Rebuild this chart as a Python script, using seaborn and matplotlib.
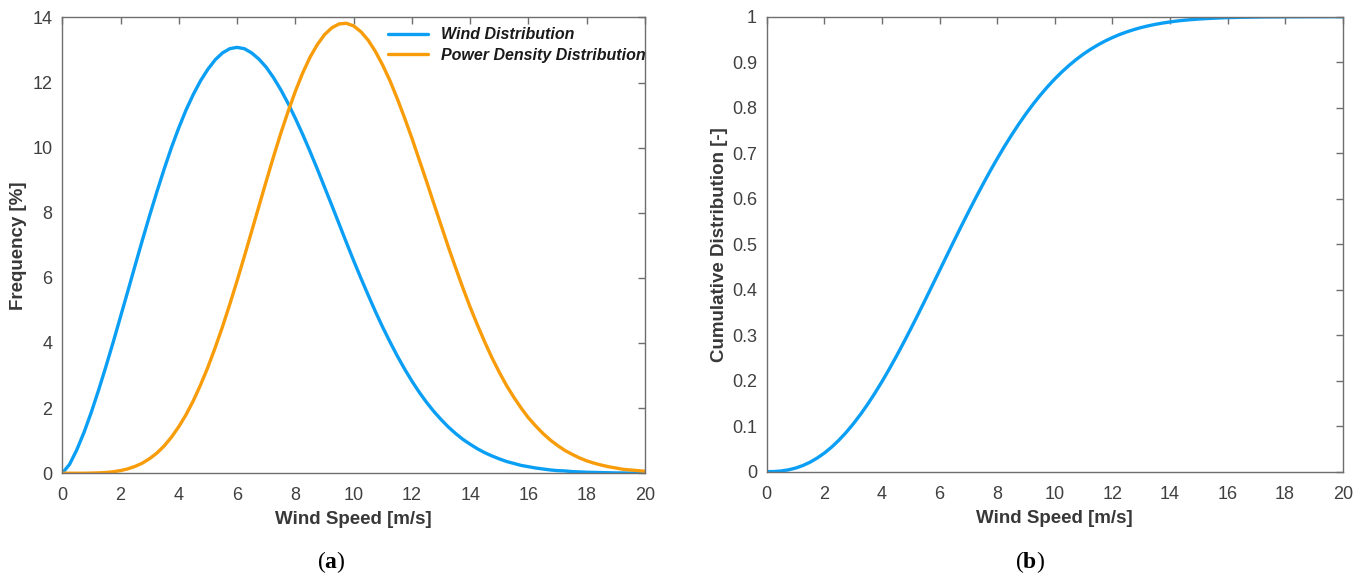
import numpy as np
import pandas as pd
import matplotlib
matplotlib.use("Agg")
import matplotlib.pyplot as plt
import seaborn as sns

# wind speed grid [m/s]
speed = [0, 0.25, 0.5, 0.75, 1, 1.25, 1.5, 1.75, 2, 2.25, 2.5, 2.75, 3, 3.25, 3.5, 3.75,
         4, 4.25, 4.5, 4.75, 5, 5.25, 5.5, 5.75, 6, 6.25, 6.5, 6.75, 7, 7.25, 7.5, 7.75,
         8, 8.25, 8.5, 8.75, 9, 9.25, 9.5, 9.75, 10, 10.25, 10.5, 10.75, 11, 11.25, 11.5,
         11.75, 12, 12.25, 12.5, 12.75, 13, 13.25, 13.5, 13.75, 14, 14.25, 14.5, 14.75,
         15, 15.25, 15.5, 15.75, 16, 16.25, 16.5, 16.75, 17, 17.25, 17.5, 17.75, 18,
         18.25, 18.5, 18.75, 19, 19.25, 19.5, 19.75, 20]

# frequency of wind speed [%]
wind_freq = [0.00, 0.27, 0.72, 1.26, 1.88, 2.56, 3.28, 4.03, 4.81, 5.59, 6.38, 7.16,
             7.92, 8.65, 9.35, 10.01, 10.61, 11.16, 11.64, 12.06, 12.41, 12.70, 12.91,
             13.04, 13.08, 13.04, 12.91, 12.72, 12.47, 12.15, 11.78, 11.36, 10.90, 10.41,
             9.89, 9.35, 8.79, 8.23, 7.66, 7.09, 6.53, 5.99, 5.47, 4.96, 4.48, 4.03, 3.60,
             3.20, 2.83, 2.49, 2.18, 1.90, 1.65, 1.42, 1.22, 1.04, 0.89, 0.75, 0.63, 0.53,
             0.44, 0.36, 0.30, 0.24, 0.20, 0.16, 0.13, 0.10, 0.08, 0.07, 0.05, 0.04, 0.03,
             0.025, 0.02, 0.015, 0.01, 0.008, 0.006, 0.005, 0.003]

# power density distribution [%]
power_freq = [0.00, 0.00, 0.00, 0.00, 0.004, 0.011, 0.023, 0.045, 0.081, 0.134, 0.21,
              0.31, 0.45, 0.62, 0.84, 1.11, 1.43, 1.80, 2.23, 2.72, 3.26, 3.86, 4.50, 5.19,
              5.91, 6.66, 7.43, 8.20, 8.97, 9.72, 10.44, 11.11, 11.73, 12.29, 12.77, 13.16,
              13.47, 13.68, 13.80, 13.82, 13.74, 13.56, 13.30, 12.95, 12.53, 12.05, 11.50,
              10.91, 10.29, 9.63, 8.97, 8.29, 7.62, 6.95, 6.31, 5.69, 5.10, 4.55, 4.03,
              3.54, 3.10, 2.69, 2.33, 2.00, 1.70, 1.45, 1.22, 1.02, 0.85, 0.70, 0.58, 0.47,
              0.38, 0.31, 0.25, 0.20, 0.16, 0.12, 0.10, 0.08, 0.06]

# cumulative distribution [-]
cdf = [0.0, 0.0003, 0.0015, 0.0040, 0.0079, 0.0134, 0.0207, 0.0299, 0.0409, 0.0539,
       0.0689, 0.0858, 0.1047, 0.1254, 0.1479, 0.1721, 0.1979, 0.2251, 0.2536, 0.2833,
       0.3139, 0.3452, 0.3772, 0.4096, 0.4420, 0.4746, 0.5069, 0.5389, 0.5703, 0.6011,
       0.6309, 0.6599, 0.6877, 0.7144, 0.7397, 0.7638, 0.7865, 0.8078, 0.8276, 0.8460,
       0.8631, 0.8787, 0.8930, 0.9061, 0.9179, 0.9285, 0.9380, 0.9465, 0.9540, 0.9607,
       0.9665, 0.9716, 0.9761, 0.9799, 0.9832, 0.9860, 0.9884, 0.9905, 0.9922, 0.9936,
       0.9948, 0.9958, 0.9966, 0.9973, 0.9979, 0.9983, 0.9987, 0.9989, 0.9992, 0.9994,
       0.9995, 0.9996, 0.9997, 0.9998, 0.9998, 0.9999, 0.9999, 0.9999, 1.0, 1.0, 1.0]

df = pd.DataFrame({"speed": speed, "wind": wind_freq, "power": power_freq, "cdf": cdf})

sns.set_style("white")
plt.rcParams['font.family'] = ['Liberation Sans', 'DejaVu Sans']
plt.rcParams['mathtext.fontset'] = 'custom'
plt.rcParams['mathtext.rm'] = 'Liberation Serif'
plt.rcParams['mathtext.bf'] = 'Liberation Serif:bold'

blue = "#0a9ff5"
orange = "#f89c0a"
axis_grey = "#6e6e6e"
text_grey = "#404040"

fig = plt.figure(figsize=(13.68, 5.75), dpi=100)
ax1 = fig.add_axes([0.0455, 0.177, 0.426, 0.7927])
ax2 = fig.add_axes([0.5605, 0.1797, 0.421, 0.7913])

sns.lineplot(data=df, x="speed", y="wind", ax=ax1, color=blue, lw=2.4,
             label="Wind Distribution")
sns.lineplot(data=df, x="speed", y="power", ax=ax1, color=orange, lw=2.4,
             label="Power Density Distribution")
sns.lineplot(data=df, x="speed", y="cdf", ax=ax2, color=blue, lw=2.4)

ax1.set_xlim(0, 20)
ax1.set_ylim(0, 14)
ax1.set_xticks(range(0, 21, 2))
ax1.set_yticks(range(0, 15, 2))

ax2.set_xlim(0, 20)
ax2.set_ylim(0, 1)
ax2.set_xticks(range(0, 21, 2))
ax2.set_yticks(np.arange(0, 1.01, 0.1))
ax2.set_yticklabels(["0", "0.1", "0.2", "0.3", "0.4", "0.5", "0.6", "0.7", "0.8", "0.9", "1"])

for ax in (ax1, ax2):
    for s in ax.spines.values():
        s.set_visible(True)
        s.set_color(axis_grey)
        s.set_linewidth(1.0)
    ax.tick_params(direction="in", length=5, width=1, color=axis_grey,
                   top=True, right=True, labelsize=13, labelcolor=text_grey)
    ax.tick_params(axis="x", pad=10)
    ax.tick_params(axis="y", pad=7)
    ax.set_xlabel("Wind Speed [m/s]", fontsize=13.5, fontweight="bold", color="#383838",
                  labelpad=5)

ax1.set_ylabel("Frequency [%]", fontsize=13.5, fontweight="bold", color="#383838",
               labelpad=4)
ax2.set_ylabel("Cumulative Distribution [-]", fontsize=13.5, fontweight="bold",
               color="#383838", labelpad=3)

leg = ax1.legend(loc="upper left", bbox_to_anchor=(0.535, 1.01), frameon=False,
                 handlelength=2.5, handletextpad=0.8, labelspacing=0.35,
                 prop={"family": "Liberation Sans", "weight": "bold", "style": "italic",
                       "size": 11.5})
for t in leg.get_texts():
    t.set_color("#1a1a1a")

fig.text(0.2425, 0.022, r"($\mathbf{a}$)", ha="center", va="center", fontsize=17,
         family="Liberation Serif", color="black")
fig.text(0.753, 0.022, r"($\mathbf{b}$)", ha="center", va="center", fontsize=17,
         family="Liberation Serif", color="black")

fig.savefig("out.png", dpi=100)
